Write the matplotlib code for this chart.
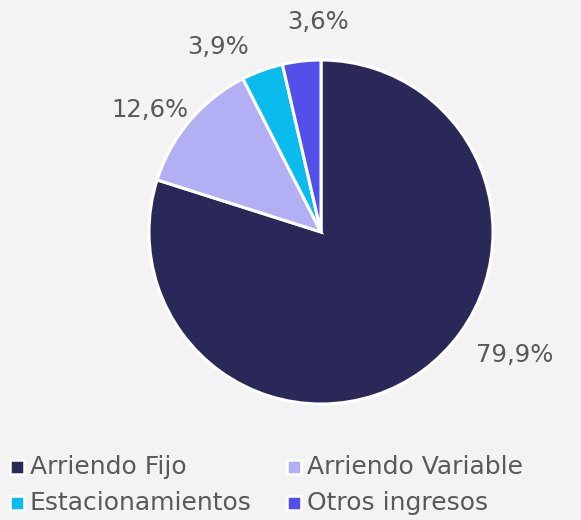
import matplotlib
matplotlib.use("Agg")
import matplotlib.pyplot as plt
from matplotlib.patches import Rectangle

categories = ["Arriendo Fijo", "Arriendo Variable", "Estacionamientos", "Otros ingresos"]
values = [79.9, 12.6, 3.9, 3.6]
labels = ["79,9%", "12,6%", "3,9%", "3,6%"]
colors = ["#2a2859", "#b3aff5", "#0abbee", "#5350ea"]
label_pos = [(1.128, -0.715), (-0.994, 0.709), (-0.599, 1.076), (-0.017, 1.221)]

bg = "#f2f3f2"
txt = "#595959"
plt.rcParams['font.family'] = ['DejaVu Sans']

W, H = 581, 520
fig = plt.figure(figsize=(W / 100, H / 100), dpi=100, facecolor=bg)
ax = fig.add_axes([(321 - 172) / W, (H - 232 - 172) / H, 344 / W, 344 / H])
ax.set_facecolor(bg)
ax.pie(values, colors=colors, startangle=90, counterclock=False,
       wedgeprops=dict(edgecolor="white", linewidth=2.2))
ax.set_xlim(-1, 1)
ax.set_ylim(-1, 1)
ax.set_aspect("equal")
for (x, y), lab in zip(label_pos, labels):
    ax.text(x, y, lab, ha="center", va="center", fontsize=17.5, color=txt, clip_on=False)

# legend laid out manually (pixel positions)
slots = [(10, 467), (287, 467), (10, 503), (287, 503)]  # marker left x, row centre y (from top)
for (mx, my), cat, col in zip(slots, categories, colors):
    fig.patches.append(Rectangle((mx / W, (H - my - 7) / H), 14 / W, 14 / H,
                                 transform=fig.transFigure, facecolor=col,
                                 edgecolor="white", linewidth=1.8))
    fig.text((mx + 20) / W, (H - my) / H, cat, ha="left", va="center",
             fontsize=18, color=txt)

fig.savefig("out.png", dpi=100, facecolor=bg)
